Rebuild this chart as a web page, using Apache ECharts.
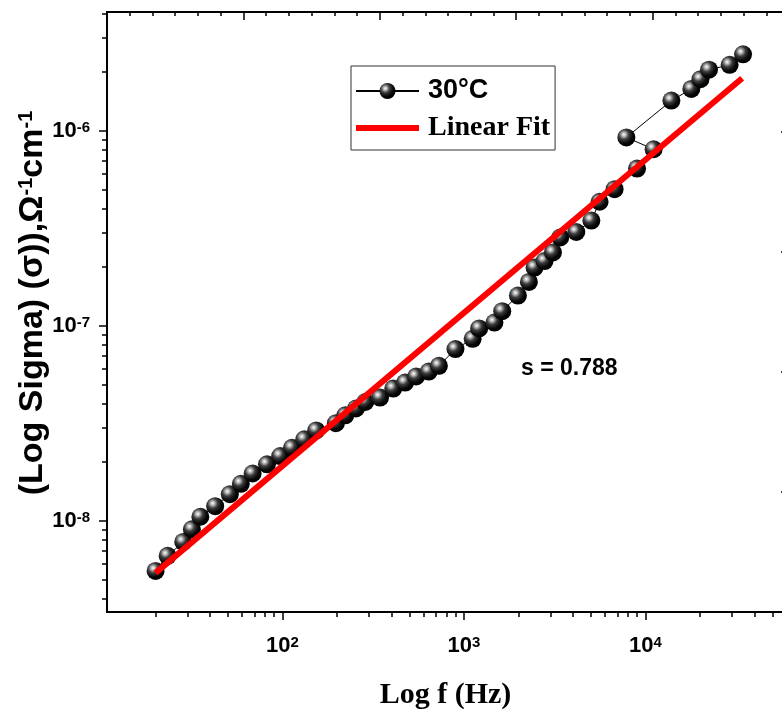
<!DOCTYPE html>
<html>
<head>
<meta charset="utf-8">
<script src="https://cdn.jsdelivr.net/npm/echarts@6/dist/echarts.min.js"></script>
<style>html,body{margin:0;padding:0;background:#fff}#c{width:782px;height:709px}</style>
</head>
<body>
<div id="c"></div>
<script>
// ---- data ----
const freqHz = [20, 23.3, 28.4, 31.7, 35.3, 42.6, 51.3, 59.0, 68.5, 82.2,
  97.2, 112.8, 131.9, 153.5, 197, 222, 254, 286, 345, 408,
  474, 545, 640, 728, 898, 1117, 1213, 1472, 1625, 1983,
  2280, 2449, 2780, 3093, 3393, 4160, 5035, 5590, 6760, 8990,
  11090, 7850, 13900, 17900, 20100, 22400, 29100, 34500];
const sigma = [5.54e-9, 6.62e-9, 7.8e-9, 9.06e-9, 1.05e-8, 1.19e-8, 1.37e-8, 1.55e-8, 1.75e-8, 1.95e-8,
  2.15e-8, 2.37e-8, 2.62e-8, 2.91e-8, 3.17e-8, 3.48e-8, 3.77e-8, 4.07e-8, 4.29e-8, 4.77e-8,
  5.12e-8, 5.5e-8, 5.83e-8, 6.24e-8, 7.6e-8, 8.58e-8, 9.7e-8, 1.04e-7, 1.19e-7, 1.43e-7,
  1.68e-7, 1.99e-7, 2.15e-7, 2.38e-7, 2.84e-7, 3.03e-7, 3.47e-7, 4.33e-7, 5.02e-7, 6.41e-7,
  8.05e-7, 9.26e-7, 1.43e-6, 1.64e-6, 1.84e-6, 2.06e-6, 2.18e-6, 2.47e-6];
const fitFreq = [20.0, 34100];
const fitSigma = [5.41e-9, 1.86e-6];
const seriesNames = ['30°C', 'Linear Fit'];
const xMajorExp = [2, 3, 4];
const yMajorExp = [-8, -7, -6];
const xRange = [10.8, 58000];
const yRange = [3.41e-9, 4.07e-6];
const slopeText = 's = 0.788';

// ---- helpers ----
const L = Math.log10;
function minorLogs(lo, hi) {
  const out = [];
  for (let e = Math.floor(L(lo)); e <= Math.ceil(L(hi)); e++) {
    for (let k = 2; k <= 9; k++) {
      const v = L(k) + e;
      if (v >= L(lo) && v <= L(hi)) out.push(v);
    }
  }
  return out;
}
const mainData = freqHz.map((f, i) => [L(f), L(sigma[i])]);
const fitData = fitFreq.map((f, i) => [L(f), L(fitSigma[i])]);

const tickFont = 'Liberation Sans';
const richTick = {
  b: {fontFamily: tickFont, fontWeight: 'bold', fontSize: 22, color: '#000'},
  s: {fontFamily: tickFont, fontWeight: 'bold', fontSize: 15, color: '#000', verticalAlign: 'top'}
};
function powLabel(v) { return '{b|10}{s|' + Math.round(v) + '}'; }

const sphere = {
  type: 'radial', x: 0.36, y: 0.34, r: 0.66,
  colorStops: [
    {offset: 0, color: '#ffffff'},
    {offset: 0.16, color: '#bdbdbd'},
    {offset: 0.42, color: '#3c3c3c'},
    {offset: 0.75, color: '#080808'},
    {offset: 1, color: '#000000'}
  ]
};

const axisLine = {show: true, lineStyle: {color: '#000', width: 2}};
const hid = {show: false};

// top axis linear ticks (mirror frame)
const topMajor = [0, 1, 2, 3, 4];
const topMinor = [];
for (let k = 1; k < 30; k++) if (k % 6) topMinor.push(k / 6);
const topMax = 677 / 136.4;

const option = {
  animation: false,
  backgroundColor: '#fff',
  grid: {left: 107, top: 12, width: 677, height: 600, containLabel: false, outerBoundsMode: 'none'},
  xAxis: [
    {type: 'value', position: 'bottom', min: L(xRange[0]), max: L(xRange[1]),
      axisLine: axisLine, splitLine: hid,
      axisTick: {show: true, inside: false, length: 8, lineStyle: {color: '#000', width: 1.5}, customValues: xMajorExp},
      axisLabel: {show: true, margin: 23, customValues: xMajorExp, formatter: powLabel, rich: richTick},
      name: 'Log f (Hz)', nameLocation: 'middle', nameGap: 68, nameMoveOverlap: false,
      nameTextStyle: {fontFamily: 'Liberation Serif', fontWeight: 'bold', fontSize: 30, color: '#000'}
    },
    {type: 'value', position: 'bottom', min: L(xRange[0]), max: L(xRange[1]),
      axisLine: hid, splitLine: hid, axisLabel: hid,
      axisTick: {show: true, inside: false, length: 5, lineStyle: {color: '#000', width: 1.5}, customValues: minorLogs(xRange[0], xRange[1])}
    },
    {type: 'value', position: 'top', min: 0, max: topMax,
      axisLine: axisLine, splitLine: hid, axisLabel: hid,
      axisTick: {show: true, inside: true, length: 8, lineStyle: {color: '#000', width: 1.5}, customValues: topMajor}
    },
    {type: 'value', position: 'top', min: 0, max: topMax,
      axisLine: hid, splitLine: hid, axisLabel: hid,
      axisTick: {show: true, inside: true, length: 4, lineStyle: {color: '#000', width: 1.5}, customValues: topMinor}
    }
  ],
  yAxis: [
    {type: 'value', position: 'left', min: L(yRange[0]), max: L(yRange[1]),
      axisLine: axisLine, splitLine: hid,
      axisTick: {show: true, inside: false, length: 8, lineStyle: {color: '#000', width: 1.5}, customValues: yMajorExp},
      axisLabel: {show: true, margin: 17, customValues: yMajorExp, formatter: powLabel, rich: richTick},
      name: '{t|(Log Sigma) (σ)),Ω}{s|-1}{t|cm}{s|-1}', nameLocation: 'middle', nameGap: 57, nameMoveOverlap: false,
      nameTextStyle: {
        padding: [0, 0, 0, 18],
        rich: {
          t: {fontFamily: 'Liberation Sans', fontWeight: 'bold', fontSize: 34, color: '#000'},
          s: {fontFamily: 'Liberation Sans', fontWeight: 'bold', fontSize: 20, color: '#000', verticalAlign: 'top'}
        }
      }
    },
    {type: 'value', position: 'left', min: L(yRange[0]), max: L(yRange[1]),
      axisLine: hid, splitLine: hid, axisLabel: hid,
      axisTick: {show: true, inside: false, length: 5, lineStyle: {color: '#000', width: 1.5}, customValues: minorLogs(yRange[0], yRange[1])}
    },
    {type: 'value', position: 'right', min: 0, max: 5,
      axisLine: hid, splitLine: hid, axisLabel: hid,
      axisTick: {show: true, inside: true, length: 3, lineStyle: {color: '#000', width: 1.5}, customValues: [1, 2, 3, 4]}
    }
  ],
  legend: {
    show: true, orient: 'vertical', left: 351, top: 66,
    backgroundColor: '#fff', borderColor: '#333', borderWidth: 1,
    padding: [10, 5, 7, 4], itemGap: 7, itemWidth: 63, itemHeight: 20,
    data: [
      {name: seriesNames[0], textStyle: {fontFamily: 'Liberation Sans', fontWeight: 'bold', fontSize: 27, color: '#000', padding: [0, 0, 0, 4], lineHeight: 30}},
      {name: seriesNames[1], icon: 'path://M0,0H63V6H0Z', textStyle: {fontFamily: 'Liberation Serif', fontWeight: 'bold', fontSize: 28, color: '#000', padding: [0, 0, 0, 4], lineHeight: 30}}
    ]
  },
  graphic: [
    {type: 'text', left: 521, top: 357, z: 10,
      style: {text: slopeText, font: 'bold 23px "Liberation Sans"', fill: '#000'}}
  ],
  series: [
    {name: seriesNames[0], type: 'line', xAxisIndex: 0, yAxisIndex: 0, data: mainData,
      symbol: 'circle', symbolSize: 18, showAllSymbol: true, z: 2,
      itemStyle: {color: sphere},
      lineStyle: {color: '#000', width: 1}, emphasis: {disabled: true}},
    {name: seriesNames[1], type: 'line', xAxisIndex: 0, yAxisIndex: 0, data: fitData,
      symbol: 'none', z: 3,
      itemStyle: {color: '#ff0000'},
      lineStyle: {color: '#ff0000', width: 6, cap: 'butt'}, emphasis: {disabled: true}}
  ]
};
const chart = echarts.init(document.getElementById('c'), null, {renderer: 'canvas'});
chart.setOption(option);
</script>
</body>
</html>
